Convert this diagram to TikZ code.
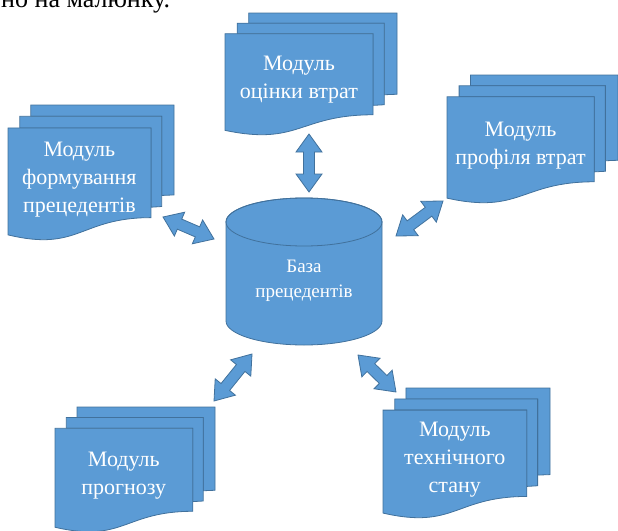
\documentclass[tikz,border=0pt]{standalone}
\usepackage{fontspec}
\setmainfont{Liberation Serif}
\usetikzlibrary{calc}
\definecolor{fillb}{HTML}{5B9BD5}
\definecolor{lineb}{HTML}{41719C}
\tikzset{
  sheet/.style={fill=fillb, draw=lineb, line width=0.8pt, line join=miter},
  arr/.style={fill=fillb, draw=lineb, line width=0.8pt, line join=miter},
  doctext/.style={text=white, font=\fontsize{22}{28}\selectfont, align=center, inner sep=0pt},
  dbtext/.style={text=white, font=\fontsize{19}{25}\selectfont, align=center, inner sep=0pt}
}
\newcommand\hl{18pt}
\newcommand\hw{13pt}
\newcommand\sw{5.5pt}
\newcommand\dbl[2]{\path[arr] (#1)
  -- ($(#1)!\hl!(#2)!\hw!90:(#2)$) -- ($(#1)!\hl!(#2)!\sw!90:(#2)$)
  -- ($(#2)!\hl!(#1)!\sw!-90:(#1)$) -- ($(#2)!\hl!(#1)!\hw!-90:(#1)$)
  -- (#2)
  -- ($(#2)!\hl!(#1)!\hw!90:(#1)$) -- ($(#2)!\hl!(#1)!\sw!90:(#1)$)
  -- ($(#1)!\hl!(#2)!\sw!-90:(#2)$) -- ($(#1)!\hl!(#2)!\hw!-90:(#2)$)
  -- cycle;}
\newcommand\multidoc[6]{%
\begin{scope}[shift={(#2,#3)}, x={(#4pt,0pt)}, y={(0pt,-#5pt)}]
 \path[sheet] (0.1376,0.084) -- (0.1376,0) -- (1,0) -- (1,0.666) -- (0.926,0.67) -- (0.926,0.084) -- cycle;
 \path[sheet] (0.0709,0.17) -- (0.0709,0.084) -- (0.926,0.084) -- (0.926,0.752) -- (0.861,0.757) -- (0.861,0.17) -- cycle;
 \path[sheet] (0,0.962) .. controls (0.4305,1.0898) and (0.4305,0.8343) .. (0.861,0.8343) -- (0.861,0.17) -- (0,0.17) -- cycle;
 \node[doctext] (#1) at (0.43,0.55) {#6};
\end{scope}}
\begin{document}
\begin{tikzpicture}[x=1pt,y=-1pt]
\useasboundingbox (0,0) rectangle (618,530);
\node[anchor=base west, inner sep=0pt, font=\fontsize{26}{30}\selectfont] (cap) at (1,7) {но на малюнку.};
% documents
\multidoc{top}{225}{13}{172}{122}{Модуль\\оцінки втрат}
\multidoc{left}{8}{105}{166}{135}{Модуль\\формування\\прецедентів}
\multidoc{right}{447}{75}{171}{128}{Модуль\\профіля втрат}
\multidoc{bl}{55}{407}{160}{125}{Модуль\\прогнозу}
\multidoc{br}{383}{388}{167}{130}{Модуль\\технічного\\стану}
% database cylinder
\path[sheet] (226,222) -- (226,321) arc[start angle=180, end angle=360, x radius=78pt, y radius=24pt]
  -- (382,222) arc[start angle=0, end angle=180, x radius=78pt, y radius=24pt] -- cycle;
\draw[lineb, line width=0.8pt] (304,222) ellipse [x radius=78pt, y radius=24pt];
\node[dbtext] (db) at (304,281) {База\\прецедентів};
% arrow end points
\coordinate (t1) at (309,134); \coordinate (t2) at (309,192);
\coordinate (l1) at (163,217); \coordinate (l2) at (214,239);
\coordinate (r1) at (396,236); \coordinate (r2) at (443,201);
\coordinate (b1) at (214,401); \coordinate (b2) at (252,354);
\coordinate (c1) at (358,355); \coordinate (c2) at (396,392);
\dbl{t1}{t2}
\dbl{l1}{l2}
\dbl{r1}{r2}
\dbl{b1}{b2}
\dbl{c1}{c2}
\end{tikzpicture}
\end{document}
